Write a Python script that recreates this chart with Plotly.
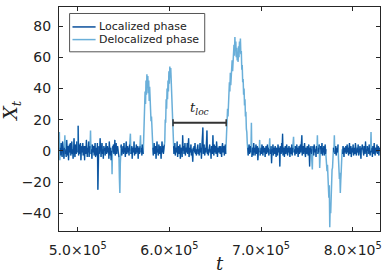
import plotly.graph_objects as go

# ---------------- data ----------------
t_start = 480000
t_step = 500

x_values = [
    12, -6, 2, -3, 5, 1, -4, 6, -1, 3, -5, 2, 10, -2, 1, -4, 7, 0, -3, 3, -6, 1, 4, -1, 5,
    -3, 0, 6, -2, 1, -5, 3, 8, -1, -4, 4, 1, -2, 6, -1, 2, 16, -3, 1, 4, -2, 5, -6, 0, 3,
    -1, 5, -3, 1, 3, -6, 3, 0, -2, 7, 1, -4, 2, -1, 6, -4, 0, 3, 13, -2, 1, -5, 4, 2, -1,
    3, -3, 0, 5, -4, 1, 2, -3, 5, -25, 1, 3, -2, 0, 8, -1, -4, 2, 5, -2, 1, -5, 3, 0, 2,
    -3, 1, 5, -2, 0, 3, -1, 2, -5, 6, 1, -3, 2, -6, 0, -15, 3, -1, 4, -2, 1, 7, -3, 0, 5,
    -2, 1, 3, -1, 0, -4, -18, -27, -8, 2, 4, -3, 1, 0, 3, -2, 5, -1, 2, -4, 1, 6, -2, 0, 3,
    -1, 2, -3, 4, 0, 11, -2, 1, 3, -5, 2, 0, -1, 6, -3, 1, 2, -2, 4, -1, 0, 3, -5, 2, 1,
    -2, 3, 10, -1, 2, -3, 4, 1, -2, 8, 24, 22, 38, 30, 45, 36, 49, 41, 48, 37, 45, 32, 41, 27, 33,
    19, 22, 10, 5, 2, -3, 1, 5, -2, 0, 3, -5, 2, 6, -1, 1, -3, 4, 0, -2, 3, 1, -5, 2, 6,
    -1, 3, -2, 0, 4, 6, 20, 18, 33, 27, 40, 33, 45, 38, 51, 43, 54, 47, 53, 44, 49, 32, 24, 8, 3,
    -2, 1, 5, -3, 0, 2, -1, 6, -4, 1, 3, -2, 0, 4, -5, 1, 2, -1, -4, 10, 0, 3, -2, 1, 5,
    -3, 2, 0, -1, 5, -2, 1, 8, -4, 0, 2, -1, 4, -3, 1, -2, -7, 2, 0, 3, -1, 5, -2, 1, -3,
    2, 0, 4, -2, 1, -3, 3, 5, -1, 2, -5, 0, 3, 15, -2, 1, 4, -3, 0, 2, -1, 5, 13, -2, 1,
    -3, 2, 0, 4, -1, 1, -5, 3, 2, -2, 10, 0, -3, 4, 1, -1, 3, -2, 6, 0, -4, 2, 1, -1, 3,
    0, -2, 3, 1, -4, 2, 5, -1, 0, 3, -3, 1, 4, -2, 8, 18, 14, 27, 22, 35, 30, 44, 38, 50, 42,
    53, 47, 58, 51, 63, 56, 68, 61, 73, 64, 70, 60, 66, 58, 63, 57, 67, 60, 70, 63, 72, 62, 64, 52, 55,
    44, 46, 36, 40, 29, 33, 22, 25, 14, 12, 5, 2, -3, 1, 4, -2, 0, 3, -1, 18, -4, 2, 0, -3, 5,
    -1, 2, -3, 1, 4, -2, 0, 3, -6, 1, 2, -1, 7, -3, 0, 2, -2, 4, 1, -3, 3, 0, -1, 2, -4,
    1, 3, -2, 0, 4, -1, 2, -3, 1, 8, -2, 0, 3, -8, 1, -1, 4, -3, 2, 0, -2, 3, 1, -4, 2,
    0, -3, 4, 1, -1, 2, -10, 3, 0, -2, 5, -1, 11, -3, 1, 2, -4, 0, 3, -2, 1, 4, -1, -3, 2,
    -1, 3, 0, -4, 2, 1, -2, 4, -3, 0, 2, 9, -1, 1, -3, 3, 0, -2, 4, -1, 2, -4, 1, 3, -2,
    0, 4, -1, 2, 10, -3, 1, 3, -2, 0, 5, -1, -4, 2, 1, -2, 3, 0, -3, 4, 1, -10, 2, -1, 3,
    -2, 1, -12, 3, 0, -3, 4, 2, -1, 1, -4, 3, 0, 10, -2, 2, -1, 4, -11, 1, 3, -2, 0, 5, -3,
    2, -1, 3, -3, 0, 4, -2, 1, -6, -13, -9, -21, -15, -30, -22, -49, -34, -40, -25, -27, -12, -11, -3, 2, -1,
    10, -2, 1, 3, -3, 0, 2, -1, 4, -5, -13, -18, -14, -27, -19, -13, -6, 1, -2, 3, 0, -4, 2, 1, -1,
    3, -2, 0, 4, -1, 2, -3, 1, 5, -2, 0, 3, -4, 1, 2, -1, 4, -3, 0, 2, -2, 5, 1, -3, 0,
    2, -1, 4, -3, 1, 0, 3, -2, -5, 2, 1, 4, -1, 0, -3, 3, 2, -2, 6, -1, 1, -4, 3, 0, 2,
    -2, 4, 1, -3, 0, 12, -1, 2, -4, 3, 1, -2, 5, 0, -3, 2, 1, -1, 4, -2, 0, 3, -3, 1, 2,
]

# time intervals classified as delocalized phase
deloc_intervals = [
    (480000, 480500), (486000, 486000), (500000, 500000), (514000, 514000),
    (537500, 537500), (545500, 546500), (557500, 557500), (568500, 568500),
    (572000, 581500), (595000, 604000), (662000, 685000), (689500, 689500),
    (698500, 698500), (709500, 709500), (735500, 735500),
    (756000, 756000), (761500, 761500), (764000, 764000), (771500, 778500),
    (780000, 780000), (784500, 788500), (820000, 820000),
]

# localization time marker (between end of 2nd burst and start of 3rd burst)
tloc_start = 604000
tloc_end = 662000
tloc_level = 18

series_names = ["Localized phase", "Delocalized phase"]
x_tick_vals = [500000, 600000, 700000, 800000]
x_tick_text = ["5.0×10<sup>5</sup>", "6.0×10<sup>5</sup>", "7.0×10<sup>5</sup>", "8.0×10<sup>5</sup>"]
y_tick_vals = [-40, -20, 0, 20, 40, 60, 80]

# ---------------- build ----------------
t = [t_start + t_step * i for i in range(len(x_values))]


def is_deloc(tt):
    return any(a <= tt <= b for a, b in deloc_intervals)


loc_y = [None if is_deloc(tt) else v for tt, v in zip(t, x_values)]

DARK = "#0b4f9c"
LIGHT = "#6aafd9"
AX = "#262626"

fig = go.Figure()
fig.add_trace(go.Scatter(x=t, y=x_values, mode="lines", name=series_names[1],
                         line=dict(color=LIGHT, width=1.5), showlegend=False))
fig.add_trace(go.Scatter(x=t, y=loc_y, mode="lines", name=series_names[0],
                         line=dict(color=DARK, width=1.1), showlegend=False, connectgaps=False))

# t_loc bracket
fig.add_shape(type="line", x0=tloc_start, x1=tloc_end, y0=tloc_level, y1=tloc_level,
              xref="x", yref="y", line=dict(color="#333333", width=2))
for tx in (tloc_start, tloc_end):
    fig.add_shape(type="line", x0=tx, x1=tx, y0=tloc_level - 2.3, y1=tloc_level + 2.3,
                  xref="x", yref="y", line=dict(color="#333333", width=1.5))
fig.add_annotation(x=(tloc_start + tloc_end) / 2, y=tloc_level + 9,
                   text="<i>t</i><sub><i>loc</i></sub>", showarrow=False,
                   font=dict(family="DejaVu Serif", size=13, color="#222222"))

# legend box (drawn in paper coordinates)
L_X0, L_X1, L_Y0, L_Y1 = 0.033, 0.454, 0.80, 0.971
fig.add_shape(type="rect", xref="paper", yref="paper", x0=L_X0, x1=L_X1, y0=L_Y0, y1=L_Y1,
              line=dict(color="#555555", width=1), fillcolor="white", layer="above")
for k, (nm, col) in enumerate(zip(series_names, [DARK, LIGHT])):
    yy = 0.911 - k * 0.0565
    fig.add_shape(type="line", xref="paper", yref="paper", x0=0.042, x1=0.114, y0=yy, y1=yy,
                  line=dict(color=col, width=1.5), layer="above")
    fig.add_annotation(xref="paper", yref="paper", x=0.117, y=yy, text=nm, showarrow=False,
                       xanchor="left", yanchor="middle",
                       font=dict(family="DejaVu Sans", size=11, color="#222222"))

# axis titles
fig.add_annotation(xref="paper", yref="paper", x=-0.1475, y=0.535,
                   text="<i>X</i><sub><i>t</i></sub>", showarrow=False, textangle=-90,
                   xanchor="center", yanchor="middle",
                   font=dict(family="DejaVu Serif", size=19, color="#222222"))
fig.add_annotation(xref="paper", yref="paper", x=0.503, y=-0.199,
                   text="<i>t</i>", showarrow=False,
                   xanchor="center", yanchor="bottom",
                   font=dict(family="DejaVu Serif", size=18, color="#222222"))

fig.update_layout(
    width=387, height=276,
    margin=dict(l=59, r=7, t=7, b=45),
    paper_bgcolor="white", plot_bgcolor="white",
    font=dict(family="DejaVu Sans", size=14, color="#222222"),
    showlegend=False,
)
fig.update_xaxes(range=[479600, 829800], tickvals=x_tick_vals, ticktext=x_tick_text,
                 ticks="inside", ticklen=4, tickcolor=AX, showline=True, linecolor=AX,
                 linewidth=1, mirror="ticks", showgrid=False, zeroline=False,
                 tickfont=dict(size=14), ticklabelstandoff=6, automargin=False)
fig.update_yaxes(range=[-51.4, 92.2], tickvals=y_tick_vals,
                 ticks="inside", ticklen=4, tickcolor=AX, showline=True, linecolor=AX,
                 linewidth=1, mirror="ticks", showgrid=False, zeroline=False,
                 tickfont=dict(size=14), ticklabelstandoff=4, automargin=False)

fig.write_html("out.html", post_script="document.body.style.margin='0';",
               config={"displayModeBar": False})
